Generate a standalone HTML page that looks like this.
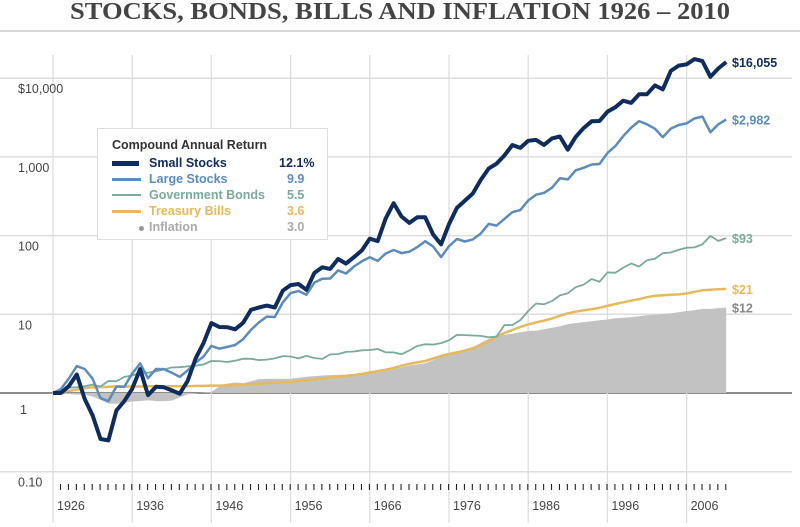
<!DOCTYPE html>
<html><head><meta charset="utf-8"><style>
html,body{margin:0;padding:0;background:#fff;}
svg{display:block;font-family:"Liberation Sans",sans-serif;}
</style></head><body>
<svg id="c" width="800" height="527" viewBox="0 0 800 527">
<text x="400" y="19" text-anchor="middle" font-family="Liberation Serif,serif" font-weight="bold" font-size="24" fill="#444" textLength="660" lengthAdjust="spacingAndGlyphs">STOCKS, BONDS, BILLS AND INFLATION 1926 – 2010</text>
<line x1="0" y1="31" x2="800" y2="31" stroke="#ccc" stroke-width="1.5"/>
<g id="grid"></g><g id="series"></g><g id="axis"></g>
</svg>
<script>
const years=[];for(let y=1925;y<=2010;y++)years.push(y);
const smallStocks=[1,1.00,1.22,1.72,0.84,0.52,0.26,0.25,0.60,0.79,1.13,2.01,0.94,1.20,1.18,1.08,0.98,1.42,2.74,4.30,7.72,6.89,6.85,6.44,7.80,11.4,12.2,12.9,12.2,19.9,23.5,24.3,20.5,33.6,39.6,37.7,50.5,44.1,53.3,64.8,91.6,85.1,164,258,175,145,171,171,103,77.6,140,225,277,343,509,710,820,1041,1416,1300,1603,1644,1419,1719,1816,1235,1793,2323,2830,2861,3747,4269,5182,4861,6237,6270,8099,7198,12387,14460,15011,17486,16495,10407,13298,16055];
const largeStocks=[1,1.12,1.53,2.20,2.02,1.52,0.86,0.79,1.21,1.20,1.77,2.37,1.54,2.02,2.01,1.81,1.60,1.93,2.43,2.91,3.97,3.65,3.85,4.07,4.83,6.36,7.89,9.34,9.24,14.1,18.6,19.8,17.7,25.3,28.3,28.5,36.1,33.0,40.5,47.2,53.0,47.7,59.1,65.6,60.0,62.4,71.4,84.9,72.5,53.3,73.1,90.6,84.1,89.6,106,141,134,163,199,211,279,331,349,406,535,518,676,728,801,812,1117,1373,1832,2355,2852,2593,2285,1780,2291,2540,2665,3085,3255,2051,2593,2982];
const govBonds=[1,1.08,1.17,1.18,1.22,1.28,1.21,1.42,1.41,1.60,1.67,1.80,1.81,1.88,1.99,2.11,2.13,2.18,2.22,2.30,2.55,2.54,2.48,2.57,2.73,2.72,2.62,2.66,2.75,2.94,2.91,2.75,2.96,2.78,2.71,3.09,3.12,3.33,3.37,3.49,3.52,3.62,3.29,3.28,3.11,3.48,3.95,4.17,4.12,4.30,4.69,5.48,5.44,5.38,5.31,5.10,5.21,7.29,7.32,8.43,11.0,13.7,13.4,14.7,17.4,18.5,22.1,23.8,28.1,25.9,34.1,33.7,39.1,44.2,40.4,48.7,50.9,59.7,61.0,66.0,70.2,70.9,77.6,98.9,85.7,93.0];
const treasuryBills=[1,1.03,1.06,1.10,1.15,1.18,1.19,1.20,1.21,1.21,1.21,1.21,1.22,1.22,1.22,1.22,1.22,1.22,1.23,1.23,1.24,1.24,1.25,1.26,1.28,1.29,1.31,1.33,1.36,1.37,1.39,1.42,1.46,1.48,1.53,1.57,1.60,1.64,1.69,1.75,1.82,1.90,1.98,2.08,2.22,2.35,2.45,2.55,2.74,2.96,3.13,3.29,3.46,3.71,4.09,4.55,5.22,5.78,6.30,6.92,7.44,7.88,8.31,8.84,9.56,10.3,10.8,11.2,11.6,12.1,12.8,13.5,14.2,14.9,15.6,16.5,17.2,17.5,17.7,17.9,18.4,19.3,20.2,20.5,20.8,21.0];
const inflation=[1,0.99,0.97,0.95,0.96,0.90,0.82,0.73,0.73,0.75,0.78,0.79,0.81,0.79,0.79,0.80,0.88,0.96,0.99,1.01,1.03,1.22,1.32,1.36,1.33,1.41,1.50,1.51,1.52,1.51,1.52,1.56,1.61,1.64,1.67,1.69,1.70,1.72,1.75,1.77,1.80,1.86,1.91,2.00,2.12,2.24,2.31,2.39,2.60,2.91,3.12,3.27,3.49,3.80,4.32,4.86,5.28,5.48,5.69,5.91,6.13,6.20,6.47,6.76,7.07,7.50,7.73,7.96,8.17,8.39,8.60,8.89,9.05,9.20,9.44,9.75,9.91,10.1,10.3,10.6,11.0,11.3,11.7,11.7,12.0,12.2];
const yTicks=[10000,1000,100,10,1,0.1];
const yTickLabels=["$10,000","1,000","100","10","1","0.10"];
const xLabels=[1926,1936,1946,1956,1966,1976,1986,1996,2006];
const endLabels=["$16,055","$2,982","$93","$21","$12"];

const NS="http://www.w3.org/2000/svg";
const X=yr=>53+(yr-1925)*7.92;
const Y=v=>393-78.7*Math.log10(v);
function mk(tag,attrs,parent){const e=document.createElementNS(NS,tag);for(const k in attrs)e.setAttribute(k,attrs[k]);parent.appendChild(e);return e;}
const grid=document.getElementById('grid'),ser=document.getElementById('series'),ax=document.getElementById('axis');

yTicks.forEach((v,i)=>{
 const l=mk('line',{x1:0,x2:792,y1:Y(v),y2:Y(v),stroke:v===1?'#666':'#ddd','stroke-width':1.5},grid);
 
 
 const t=mk('text',{x:v===1?20:18,y:Y(v)+(v===1?21:15),'font-size':12.5,fill:'#444'},ax);
 t.textContent=yTickLabels[i];
 
 
});
xLabels.forEach(yr=>{
 const gx=X(yr-1);
 const l=mk('line',{x1:gx,x2:gx,y1:55,y2:523,stroke:'#ddd','stroke-width':1.3},grid);
 
 
 const t=mk('text',{x:gx+4,y:510,'font-size':12.5,fill:'#444'},ax);
 t.textContent=yr;
 
 
});
for(let yr=1926;yr<=2010;yr++){
 const tx=X(yr-1)+7.5;
 const l=mk('line',{x1:tx,x2:tx,y1:484,y2:490,stroke:'#222','stroke-width':1.1},ax);
 
 
}
let d='M'+X(years[0])+','+Y(1);
years.forEach((yr,i)=>{d+=' L'+X(yr).toFixed(1)+','+Y(inflation[i]).toFixed(1);});
d+=' L'+X(2010)+','+Y(1)+' Z';
const area=mk('path',{d:d,fill:'#c2c2c2'},ser);


function line(data,color,w,name){
 const p=mk('path',{d:data.map((v,i)=>(i?'L':'M')+X(years[i]).toFixed(1)+','+Y(v).toFixed(1)).join(' '),fill:'none',stroke:color,'stroke-width':w,'stroke-linejoin':'round'},ser);
 
 
}
line(treasuryBills,'#e6b95a',2.5,'treasury-bills-line');
line(govBonds,'#7aaa9c',1.8,'government-bonds-line');
line(largeStocks,'#5b8cbd',2.5,'large-stocks-line');
line(smallStocks,'#0e2c5e',4,'small-stocks-line');
const endColors=['#0e2c5e','#5b8cbd','#7aaa9c','#e6b95a','#888'];
const endVals=[smallStocks[85],largeStocks[85],govBonds[85],treasuryBills[85],inflation[85]];
endLabels.forEach((s,i)=>{
 const t=mk('text',{x:732,y:Y(endVals[i])+5,'font-size':12.5,'font-weight':'bold',fill:endColors[i]},ax);
 t.textContent=s;
 
 
});
</script>
<div style="position:absolute;left:97px;top:128px;width:231px;height:112px;background:#fff;border:1px solid #ddd;box-sizing:border-box;font-family:'Liberation Sans',sans-serif;font-size:12.5px;font-weight:bold;">
 <div style="position:absolute;left:14px;top:9px;color:#333;">Compound Annual Return</div>
 <div style="position:absolute;left:14px;top:32px;width:27px;height:5px;background:#0e2c5e"></div>
 <div style="position:absolute;left:51px;top:27px;color:#0e2c5e">Small Stocks</div>
 <div style="position:absolute;left:181px;top:27px;color:#0e2c5e">12.1%</div>
 <div style="position:absolute;left:14px;top:49px;width:29px;height:3px;background:#5b8cbd"></div>
 <div style="position:absolute;left:51px;top:43px;color:#5b8cbd">Large Stocks</div>
 <div style="position:absolute;left:189px;top:43px;color:#5b8cbd">9.9</div>
 <div style="position:absolute;left:14px;top:65px;width:29px;height:2px;background:#7aaa9c"></div>
 <div style="position:absolute;left:51px;top:59px;color:#7aaa9c">Government Bonds</div>
 <div style="position:absolute;left:189px;top:59px;color:#7aaa9c">5.5</div>
 <div style="position:absolute;left:14px;top:81px;width:29px;height:3px;background:#e6b95a"></div>
 <div style="position:absolute;left:51px;top:75px;color:#e6b95a">Treasury Bills</div>
 <div style="position:absolute;left:189px;top:75px;color:#e6b95a">3.6</div>
 <div style="position:absolute;left:41px;top:97px;width:5px;height:5px;border-radius:50%;background:#999"></div>
 <div style="position:absolute;left:51px;top:91px;color:#aaa">Inflation</div>
 <div style="position:absolute;left:189px;top:91px;color:#aaa">3.0</div>
</div>
</body></html>
